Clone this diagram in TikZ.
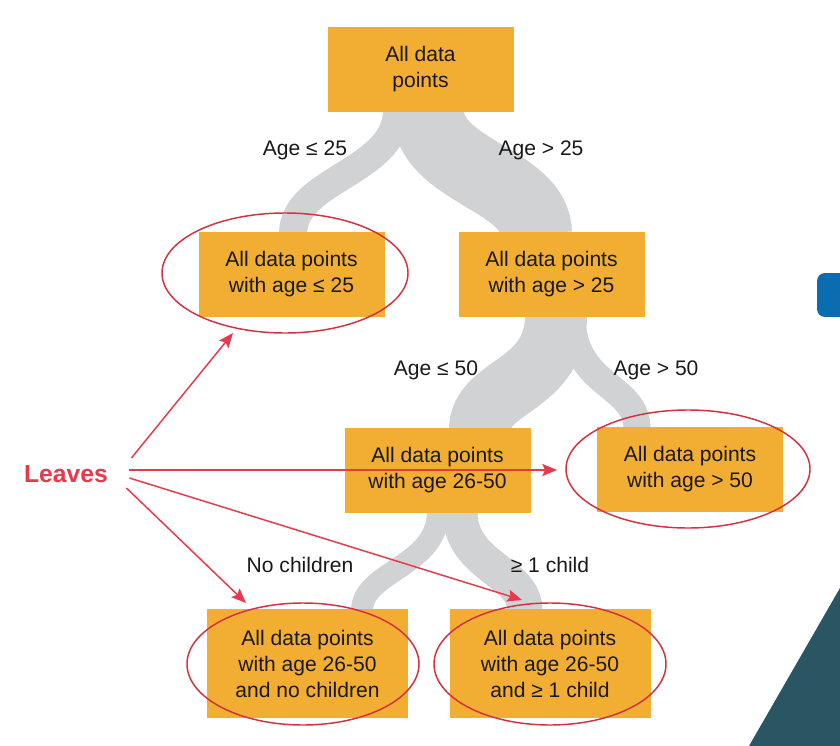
\documentclass[tikz,border=0pt]{standalone}
\usepackage{fontspec}
\setmainfont{Liberation Sans}
\usetikzlibrary{arrows.meta,positioning,calc}
\pgfdeclarelayer{background}
\pgfsetlayers{background,main}
\definecolor{boxorange}{RGB}{242,173,51}
\definecolor{branchgray}{RGB}{209,210,212}
\definecolor{ringred}{RGB}{214,48,62}
\definecolor{leafred}{RGB}{232,57,74}
\definecolor{slideblue}{RGB}{12,108,176}
\definecolor{slideteal}{RGB}{42,85,98}

\begin{document}
\begin{tikzpicture}[
  x=0.75pt, y=-0.75pt,
  every node/.style={font=\fontsize{15.8}{19.5}\selectfont, align=center, text=black!90},
  databox/.style={fill=boxorange, minimum width=139.5pt, minimum height=63.75pt, inner sep=0pt},
  leafbox/.style={databox, minimum width=150.75pt, minimum height=81.75pt},
  branch/.style={draw=branchgray, line cap=butt},
  ring/.style={draw=ringred, line width=1.1pt},
  pointer/.style={draw=leafred, line width=1.1pt, -{Stealth[length=11pt,width=9pt,inset=2pt]}}
]
  \useasboundingbox (0,0) rectangle (840,746);

  % --- Folienrest rechts ---
  \fill[slideblue, rounded corners=6pt] (817,273) rectangle (860,317);
  \fill[slideteal] (840,588) -- (840,746) -- (749,746) -- cycle;

  % --- Knoten des Baums ---
  \node (root)  [databox] at (420.5,69.5)  {All data\\points};
  \node (le25)  [databox] at (291.5,274.5) {All data points\\with age ≤ 25};
  \node (gt25)  [databox] at (551.5,274.5) {All data points\\with age > 25};
  \node (mid)   [databox] at (437.5,470.5) {All data points\\with age 26-50};
  \node (gt50)  [databox] at (690,469.5)   {All data points\\with age > 50};
  \node (nokid) [leafbox] at (307.5,663.5) {All data points\\with age 26-50\\and no children};
  \node (kids)  [leafbox] at (550,663.5)   {All data points\\with age 26-50\\and ≥ 1 child};

  % Bedingungen
  \node (c1) at (305,150) {Age ≤ 25};
  \node (c2) at (541,150) {Age > 25};
  \node (c3) at (436,370) {Age ≤ 50};
  \node (c4) at (656,370) {Age > 50};
  \node (c5) at (300,565) {No children};
  \node (c6) at (550,565) {≥ 1 child};

  % Aeste
  \begin{pgfonlayer}{background}
    \draw[branch, line width=21pt]    ($(root.south)+(-23.5,-2)$) .. controls +(0,62) and +(0,-55) .. ($(le25.north)+(1.5,2)$);
    \draw[branch, line width=54pt]    ($(root.south)+(7.5,-2)$)   .. controls +(0,62) and +(0,-55) .. ($(gt25.north)+(-15.5,2)$);
    \draw[branch, line width=46.5pt]  ($(gt25.south)+(4.5,-2)$)   .. controls +(0,72) and +(0,-45) .. ($(mid.north)+(42.5,2)$);
    \draw[branch, line width=20.25pt] ($(gt25.south)+(20.5,-2)$)  .. controls +(0,72) and +(0,-45) .. ($(gt50.north)+(-53,2)$);
    \draw[branch, line width=16.5pt]  ($(mid.south)+(0.5,-2)$)    .. controls +(0,56) and +(0,-40) .. ($(nokid.north)+(54.5,2)$);
    \draw[branch, line width=26.25pt] ($(mid.south)+(22.5,-2)$)   .. controls +(0,56) and +(0,-40) .. ($(kids.north)+(-25,2)$);
  \end{pgfonlayer}

  % --- Blaetter markieren ---
  \draw[ring] (285,273) ellipse [x radius=123, y radius=60];
  \draw[ring] (688,469) ellipse [x radius=122, y radius=59];
  \draw[ring] (303,664) ellipse [x radius=116, y radius=61];
  \draw[ring] (550,664) ellipse [x radius=116, y radius=61];

  \node (leaves) [font=\fontsize{18.5}{22}\selectfont\bfseries, text=leafred, inner xsep=16pt, inner ysep=0pt] at (66,474) {Leaves};

  \coordinate (tipA) at (233,333);
  \coordinate (tipB) at (557,470);
  \coordinate (tipC) at (522,600);
  \coordinate (tipD) at (246,603);

  \draw[pointer] ([shift={(2,-16)}]leaves.east) -- (tipA);
  \draw[pointer] ([shift={(0,-4)}]leaves.east)  -- (tipB);
  \draw[pointer] ([shift={(0,4)}]leaves.east)   -- (tipC);
  \draw[pointer] ([shift={(-3,14)}]leaves.east) -- (tipD);
\end{tikzpicture}
\end{document}
